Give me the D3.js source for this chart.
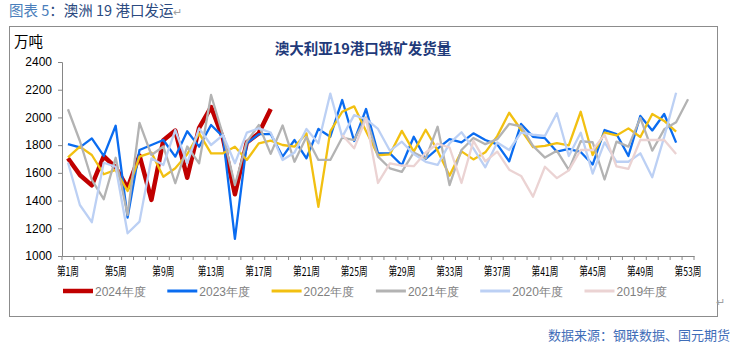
<!DOCTYPE html>
<html><head><meta charset="utf-8">
<script src="https://cdn.jsdelivr.net/npm/d3@7/dist/d3.min.js"></script>
<style>body{margin:0;background:#fff;} svg{display:block;}</style>
</head><body>
<svg id="c" width="734" height="346"></svg>
<script>
const weeks = d3.range(1, 54);
const tickWeeks = [1, 5, 9, 13, 17, 21, 25, 29, 33, 37, 41, 45, 49, 53];
const yTicks = [1000, 1200, 1400, 1600, 1800, 2000, 2200, 2400];

const s2024 = [1705, 1585, 1510, 1720, 1640, 1490, 1725, 1405, 1835, 1905, 1565, 1925, 2075, 1850, 1445, 1820, 1885, 2060];
const s2023 = [1808, 1784, 1849, 1722, 1940, 1277, 1765, 1801, 1837, 1717, 1900, 1789, 1945, 1861, 1123, 1813, 1880, 1880, 1717, 1837,
  1705, 1917, 1861, 2126, 1830, 2061, 1741, 1741, 1655, 1861, 1700, 1775, 1844, 1820, 1885, 1837, 1806, 1683, 1953, 1860,
  1850, 1753, 1773, 1750, 1660, 1909, 1880, 1722, 2011, 1906, 2025, 1818];
const s2022 = [1712, 1789, 1729, 1590, 1621, 1469, 1717, 1746, 1572, 1633, 1734, 1885, 1741, 1741, 1789, 1693, 1813, 1833, 1801, 1789,
  1885, 1355, 1900, 2041, 2080, 1900, 1727, 1734, 1903, 1753, 1911, 1760, 1580, 1755, 1697, 1748, 1865, 2034, 1911, 1785,
  1795, 1815, 1798, 2041, 1729, 1890, 1870, 1921, 1859, 2025, 1975, 1897];
const s2021 = [2059, 1830, 1550, 1410, 1709, 1296, 1960, 1729, 1790, 1525, 1790, 1669, 2162, 1873, 1512, 1825, 1945, 1737, 1942, 1680,
  1860, 1693, 1693, 1855, 1837, 2000, 1717, 1633, 1607, 1747, 1703, 1933, 1512, 1765, 1852, 1807, 1843, 1953, 1935, 1795,
  1710, 1759, 1621, 1828, 1821, 1552, 1825, 1789, 1997, 1760, 1914, 1965, 2131];
const s2020 = [1675, 1368, 1244, 1673, 1644, 1164, 1248, 1705, 1657, 1909, 1669, 1921, 1801, 1873, 1669, 1890, 1921, 1891, 1693, 1747,
  1917, 1813, 2172, 1860, 2017, 1987, 1917, 1759, 1825, 1735, 1680, 1657, 1813, 1893, 1777, 1640, 1819, 1765, 1891, 1875,
  1867, 2030, 1722, 1890, 1595, 1820, 1680, 1680, 1741, 1568, 1860, 2178];
// 2019 series is visible from week 24 onwards
const s2019Start = 24;
const s2019 = [1873, 1777, 1993, 1527, 1668, 1653, 1648, 1747, 1810, 1783, 1527, 1831, 1683, 1753, 1623, 1578, 1428, 1644, 1562,
  1618, 1765, 1765, 1875, 1647, 1629, 1837, 1837, 1837, 1736];

const seriesNames = ["2024年度", "2023年度", "2022年度", "2021年度", "2020年度", "2019年度"];
const seriesData = [s2024, s2023, s2022, s2021, s2020, s2019];
const seriesStart = [1, 1, 1, 1, 1, s2019Start];
const colors = ["#C00000", "#0A6CF0", "#F2C011", "#B3B3B3", "#BCD0F4", "#EBD3D3"];
const widths = [4.5, 2.3, 2.3, 2.3, 2.3, 2.3];

const svg = d3.select("#c");
const cjk = "'Noto Sans CJK SC','Noto Sans',sans-serif";
const latin = "'Liberation Sans',Arial,sans-serif";

// page title
const t = svg.append("text").attr("x", 9).attr("y", 16).attr("font-family", cjk).attr("font-size", 14.5);
t.append("tspan").attr("fill", "#4A7EBB").text("图表 5");
t.append("tspan").attr("fill", "#2B4A80").text("：澳洲 19 港口发运");
t.append("tspan").attr("fill", "#A0A0A0").attr("font-size", 11).text("↵");

// chart frame
svg.append("rect").attr("x", 9.5).attr("y", 26.5).attr("width", 708).attr("height", 290)
  .attr("fill", "none").attr("stroke", "#8C8C8C").attr("stroke-width", 1);

svg.append("text").attr("x", 14).attr("y", 47).attr("font-family", cjk).attr("font-size", 14.5)
  .attr("fill", "#000").text("万吨");

svg.append("text").attr("x", 363).attr("y", 54).attr("text-anchor", "middle").attr("font-family", cjk)
  .attr("font-size", 14.5).attr("font-weight", "bold").attr("fill", "#1F3A7A").text("澳大利亚19港口铁矿发货量");

const x = d3.scaleBand().domain(weeks).range([62, 694]).paddingInner(0).paddingOuter(0);
const y = d3.scaleLinear().domain([1000, 2400]).range([256, 62]);
const cx = w => x(w) + x.bandwidth() / 2;

// y axis
const ya = svg.append("g").attr("transform", "translate(62,0)")
  .call(d3.axisLeft(y).tickValues(yTicks).tickSize(4).tickPadding(6).tickFormat(d => d));
ya.select(".domain").attr("stroke", "#868686");
ya.selectAll(".tick line").attr("stroke", "#868686");
ya.selectAll("text").attr("font-family", latin).attr("font-size", 12).attr("fill", "#000");

// x axis
const xa = svg.append("g").attr("transform", "translate(0,256)")
  .call(d3.axisBottom(x).tickValues(tickWeeks).tickSize(0).tickFormat(w => "第" + w + "周"));
xa.select(".domain").attr("stroke", "#868686");
xa.selectAll("text").attr("font-family", cjk).attr("font-size", 12).attr("fill", "#000")
  .attr("y", 20.5).attr("dy", 0).attr("transform", "scale(0.72,1)");
// category boundary ticks
svg.append("g").selectAll("line").data(weeks.concat([54])).join("line")
  .attr("x1", w => w <= 53 ? x(w) : x(53) + x.bandwidth())
  .attr("x2", w => w <= 53 ? x(w) : x(53) + x.bandwidth())
  .attr("y1", 256).attr("y2", 260).attr("stroke", "#868686").attr("stroke-width", 1);

// lines
const line = d3.line().x(d => cx(d.w)).y(d => y(d.v));
seriesData.forEach((vals, i) => {
  const pts = vals.map((v, k) => ({ w: seriesStart[i] + k, v }));
  svg.append("path").datum(pts).attr("d", line).attr("fill", "none")
    .attr("stroke", colors[i]).attr("stroke-width", widths[i]).attr("stroke-linejoin", "round");
});

// legend
const lg = svg.append("g");
seriesNames.forEach((n, i) => {
  const lx = 63 + i * 104.3;
  lg.append("line").attr("x1", lx).attr("x2", lx + 30).attr("y1", 291).attr("y2", 291)
    .attr("stroke", colors[i]).attr("stroke-width", i === 0 ? 4.5 : 3);
  lg.append("text").attr("x", lx + 32).attr("y", 295.5).attr("font-family", latin).attr("font-size", 12)
    .attr("fill", "#808080").text(n);
});

svg.append("text").attr("x", 716).attr("y", 306).attr("font-family", cjk).attr("font-size", 11)
  .attr("fill", "#A0A0A0").text("↵");

svg.append("text").attr("x", 730).attr("y", 340).attr("text-anchor", "end").attr("font-family", cjk)
  .attr("font-size", 13).attr("fill", "#3F6DB8").text("数据来源：钢联数据、国元期货");
</script>
</body></html>
